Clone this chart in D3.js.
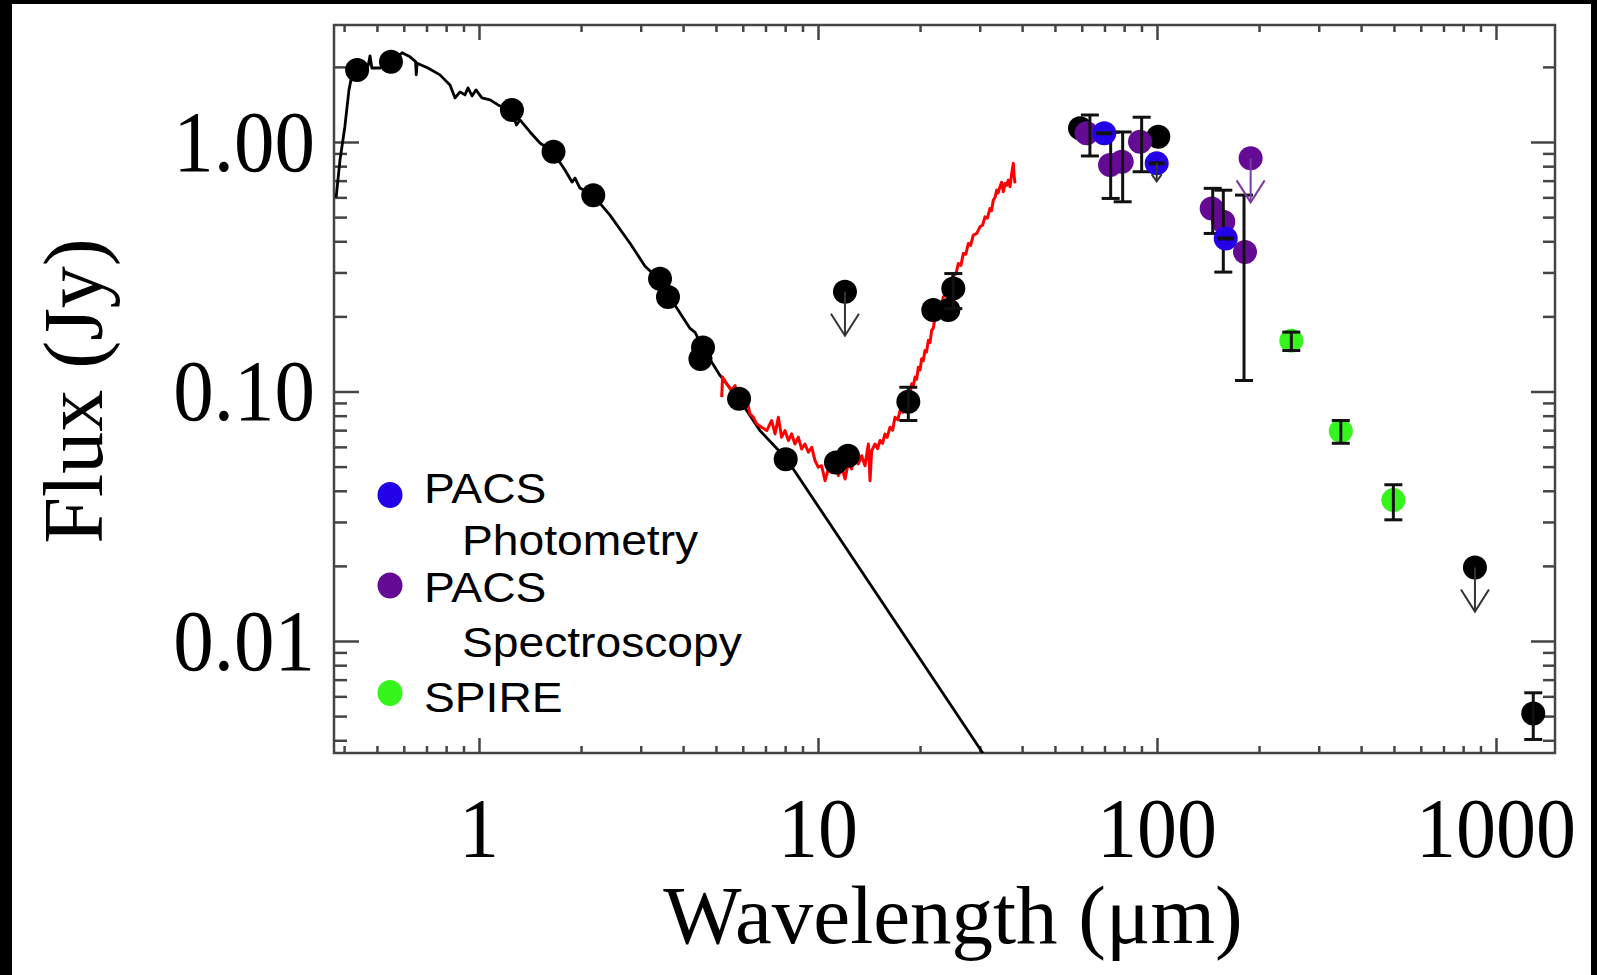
<!DOCTYPE html>
<html>
<head>
<meta charset="utf-8">
<script src="https://cdn.jsdelivr.net/npm/d3@7"></script>
<style>
  body { margin: 0; background: #fff; }
  svg { display: block; }
</style>
</head>
<body>
<script>
const width = 1597, height = 975;

// axis ticks and labels
const xMajor = [1, 10, 100, 1000];
const xTickLabels = ["1", "10", "100", "1000"];
const yMajor = [0.01, 0.1, 1];
const yTickLabels = ["0.01", "0.10", "1.00"];

// stellar photosphere model [wavelength um, flux Jy]
const photosphere = [
  [0.379, 0.60], [0.389, 0.847], [0.402, 1.149], [0.4135, 1.618], [0.422, 1.858],
  [0.437, 1.945], [0.455, 1.983], [0.471, 2.02], [0.477, 2.215], [0.483, 1.98],
  [0.5105, 1.98], [0.550, 2.096], [0.593, 2.278], [0.626, 2.194], [0.650, 2.10],
  [0.653, 1.86], [0.657, 2.07], [0.707, 1.98], [0.767, 1.858], [0.821, 1.694],
  [0.850, 1.502], [0.879, 1.588], [0.909, 1.544], [0.928, 1.648], [0.954, 1.530],
  [0.980, 1.618], [1.020, 1.502], [1.078, 1.475], [1.138, 1.408], [1.193, 1.369],
  [1.251, 1.319], [1.29, 1.17], [1.321, 1.226], [1.414, 1.097], [1.513, 0.991],
  [1.653, 0.912], [1.793, 0.772], [1.881, 0.691], [1.92, 0.717], [1.985, 0.654],
  [2.17, 0.612], [2.434, 0.509], [2.789, 0.393], [3.089, 0.318], [3.42, 0.279],
  [3.786, 0.2215], [4.193, 0.179], [4.34, 0.1726], [4.58, 0.149], [5.14, 0.116],
  [5.89, 0.092], [6.745, 0.0697], [8.07, 0.0538], [30.66, 0.00355]
];

// IRS spectrum [wavelength um, flux Jy]
const irsSpectrum = [
  [5.20, 0.0949], [5.23, 0.1142], [5.38, 0.1074], [5.56, 0.1009], [5.69, 0.1057],
  [5.82, 0.0949], [6.02, 0.0892], [6.16, 0.0935], [6.30, 0.0813], [6.45, 0.0788],
  [6.59, 0.0742], [6.82, 0.0719], [7.06, 0.0697], [7.30, 0.0765], [7.47, 0.0676],
  [7.64, 0.0788], [7.81, 0.0656], [7.99, 0.0697], [8.18, 0.0636], [8.36, 0.0676],
  [8.55, 0.0616], [8.75, 0.0656], [8.95, 0.0588], [9.15, 0.0616], [9.37, 0.0571],
  [9.58, 0.0598], [9.80, 0.0528], [10.02, 0.0497], [10.25, 0.0504], [10.49, 0.0439],
  [10.73, 0.0489], [10.97, 0.0474], [11.23, 0.0512], [11.48, 0.0460], [11.75, 0.0497],
  [12.02, 0.0446], [12.29, 0.0520], [12.57, 0.0489], [12.86, 0.0571], [13.15, 0.0512],
  [13.45, 0.0553], [13.76, 0.0504], [14.08, 0.0616], [14.24, 0.0439], [14.40, 0.0579],
  [14.73, 0.0616], [15.0, 0.0590], [15.24, 0.0636], [15.5, 0.0620], [15.76, 0.0676],
  [16.0, 0.0655], [16.31, 0.0719], [16.6, 0.0700], [16.87, 0.0788], [17.2, 0.0770],
  [17.46, 0.0839], [17.8, 0.0825], [18.06, 0.0892], [18.3, 0.0940], [18.48, 0.1009],
  [18.7, 0.0985], [18.90, 0.1074], [19.1, 0.1050], [19.33, 0.1142], [19.55, 0.1120],
  [19.77, 0.1252], [20.0, 0.1220], [20.22, 0.1353], [20.45, 0.1330], [20.68, 0.1461],
  [20.9, 0.1440], [21.16, 0.1603], [21.4, 0.1570], [21.64, 0.1758], [21.9, 0.1800],
  [22.14, 0.1988], [22.4, 0.1960], [22.65, 0.2182], [23.0, 0.2150], [23.43, 0.2392],
  [23.8, 0.2450], [24.24, 0.2706], [24.6, 0.2650], [25.07, 0.2969], [25.5, 0.2950],
  [25.94, 0.3256], [26.4, 0.3200], [26.83, 0.3571], [27.3, 0.3550], [27.76, 0.3918],
  [28.2, 0.3850], [28.72, 0.4231], [29.4, 0.4300], [30.05, 0.4571], [30.6, 0.4650],
  [31.09, 0.5013], [31.6, 0.4950], [32.17, 0.5416], [32.5, 0.5300], [32.90, 0.585],
  [33.3, 0.6000], [33.66, 0.6415], [34.0, 0.6250], [34.43, 0.6616], [34.8, 0.6900],
  [35.22, 0.6318], [35.62, 0.6823], [36.0, 0.6700], [36.44, 0.7037], [36.85, 0.6616],
  [37.27, 0.7485], [37.69, 0.821], [37.9, 0.7300], [38.12, 0.6823]
];

// photometry (black)
const photLam  = [0.437, 0.550, 1.251, 1.659, 2.173, 3.42, 3.61, 4.58, 4.50, 5.85, 8.03, 11.30, 12.26, 18.47, 21.88, 24.24, 25.07, 59.3, 100.9, 1288];
const photFlux = [1.945, 2.096, 1.344, 0.914, 0.612, 0.283, 0.239, 0.150, 0.135, 0.0935, 0.0535, 0.0519, 0.0553, 0.091, 0.212, 0.212, 0.259, 1.135, 1.05, 0.00512];

// Herschel
const pacsPhotLam  = [69.9, 99.8, 159.5];
const pacsPhotFlux = [1.084, 0.821, 0.4105];
const pacsSpecLam  = [62.0, 72.7, 78.7, 89.1, 145, 156.9, 181.8];
const pacsSpecFlux = [1.084, 0.808, 0.834, 1.003, 0.5417, 0.4786, 0.3625];
const spireLam  = [249, 348.5, 498];
const spireFlux = [0.1599, 0.0694, 0.0367];

// error bars [wavelength, low, high]
const errorBars = [
  [63.4, 0.879, 1.283], [73.0, 0.594, 1.094], [79.2, 0.576, 1.097], [90.1, 0.760, 1.257],
  [146, 0.430, 0.652], [156.9, 0.301, 0.641], [180.6, 0.1107, 0.6126],
  [18.47, 0.0765, 0.104], [25.07, 0.2149, 0.297],
  [249, 0.146, 0.173], [348.5, 0.062, 0.0765], [498, 0.0306, 0.0423],
  [1288, 0.00403, 0.0062]
];

// upper limits [wavelength, flux, kind]
const upperLimits = [
  [12.01, 0.2512, "phot"], [866.8, 0.0197, "phot"], [188.9, 0.860, "spec"], [99.8, 0.821, "small"]
];

const legendLabels = [["PACS", "Photometry"], ["PACS", "Spectroscopy"], ["SPIRE"]];
const colors = { phot: "#000", pacsPhot: "#2200e8", pacsSpec: "#640a94", spire: "#36f51c" };

const svg = d3.select("body").append("svg")
  .attr("width", width)
  .attr("height", height);

svg.append("rect").attr("width", width).attr("height", height).attr("fill", "#fff");
// black border strips of the original scan
svg.append("rect").attr("x", 0).attr("y", 0).attr("width", 12).attr("height", height).attr("fill", "#000");
svg.append("rect").attr("x", 0).attr("y", 0).attr("width", width).attr("height", 4).attr("fill", "#000");
svg.append("rect").attr("x", 1591).attr("y", 0).attr("width", 6).attr("height", height).attr("fill", "#000");

const plotLeft = 334, plotRight = 1555, plotTop = 25, plotBottom = 753;

const x = d3.scaleLog().domain([0.3735, 1493]).range([plotLeft, plotRight]);
const y = d3.scaleLog().domain([0.003557, 2.944]).range([plotBottom, plotTop]);

const xMinor = x.ticks().filter(v => !xMajor.includes(v));
const yMinor = y.ticks().filter(v => !yMajor.some(m => Math.abs(m - v) < 1e-9));

function styleTicks(g) {
  g.select(".domain").remove();
  g.selectAll("line").attr("stroke", "#444").attr("stroke-width", 2.5);
}

// ticks on all four sides, pointing inwards
[[xMajor, 15], [xMinor, 7]].forEach(([vals, len]) => {
  svg.append("g").attr("transform", `translate(0,${plotBottom})`)
    .call(d3.axisBottom(x).tickValues(vals).tickSize(-len).tickFormat("")).call(styleTicks);
  svg.append("g").attr("transform", `translate(0,${plotTop})`)
    .call(d3.axisTop(x).tickValues(vals).tickSize(-len).tickFormat("")).call(styleTicks);
});
[[yMajor, 25], [yMinor, 13]].forEach(([vals, len]) => {
  svg.append("g").attr("transform", `translate(${plotLeft},0)`)
    .call(d3.axisLeft(y).tickValues(vals).tickSize(-len).tickFormat("")).call(styleTicks);
  svg.append("g").attr("transform", `translate(${plotRight},0)`)
    .call(d3.axisRight(y).tickValues(vals).tickSize(-len + 1).tickFormat("")).call(styleTicks);
});

svg.append("rect")
  .attr("x", plotLeft).attr("y", plotTop)
  .attr("width", plotRight - plotLeft).attr("height", plotBottom - plotTop)
  .attr("fill", "none").attr("stroke", "#444").attr("stroke-width", 2.5);

// tick labels
svg.selectAll(".xlab").data(xMajor).enter().append("text")
  .attr("transform", d => `translate(${x(d)},857) scale(1,1.06)`)
  .attr("text-anchor", "middle")
  .attr("font-family", "'Liberation Serif', 'Times New Roman', serif")
  .attr("font-size", 80)
  .text((d, i) => xTickLabels[i]);

svg.selectAll(".ylab").data(yMajor).enter().append("text")
  .attr("transform", d => `translate(315,${y(d) + 29}) scale(1,1.06)`)
  .attr("text-anchor", "end")
  .attr("font-family", "'Liberation Serif', 'Times New Roman', serif")
  .attr("font-size", 81)
  .text((d, i) => yTickLabels[i]);

// axis titles
svg.append("text")
  .attr("x", 953).attr("y", 943)
  .attr("text-anchor", "middle")
  .attr("font-family", "'Liberation Serif', 'Times New Roman', serif")
  .attr("font-size", 83)
  .text("Wavelength (\u03bcm)");

svg.append("text")
  .attr("transform", "translate(102,391) rotate(-90)")
  .attr("text-anchor", "middle")
  .attr("font-family", "'Liberation Serif', 'Times New Roman', serif")
  .attr("font-size", 84)
  .text("Flux (Jy)");

// plot area clip
svg.append("clipPath").attr("id", "plot-clip")
  .append("rect").attr("x", plotLeft).attr("y", plotTop)
  .attr("width", plotRight - plotLeft).attr("height", plotBottom - plotTop);

const plot = svg.append("g").attr("clip-path", "url(#plot-clip)");

const line = d3.line().x(d => x(d[0])).y(d => y(d[1]));

plot.append("path")
  .datum(photosphere)
  .attr("d", line)
  .attr("fill", "none")
  .attr("stroke", "#000")
  .attr("stroke-width", 2.8)
  .attr("stroke-linejoin", "round");

plot.append("path")
  .datum(irsSpectrum)
  .attr("d", line)
  .attr("fill", "none")
  .attr("stroke", "#f00")
  .attr("stroke-width", 3)
  .attr("stroke-linejoin", "round");

const R = 12;

function drawPoints(lams, fluxes, color) {
  plot.append("g").selectAll("circle")
    .data(lams.map((l, i) => [l, fluxes[i]]))
    .enter().append("circle")
    .attr("cx", d => x(d[0]))
    .attr("cy", d => y(d[1]))
    .attr("r", R)
    .attr("fill", color);
}

drawPoints(photLam, photFlux, colors.phot);
drawPoints(pacsSpecLam, pacsSpecFlux, colors.pacsSpec);
drawPoints(spireLam, spireFlux, colors.spire);

// upper limit points (circles)
plot.append("g").selectAll("circle")
  .data(upperLimits.filter(d => d[2] !== "small"))
  .enter().append("circle")
  .attr("cx", d => x(d[0]))
  .attr("cy", d => y(d[1]))
  .attr("r", R)
  .attr("fill", d => d[2] === "spec" ? colors.pacsSpec : colors.phot);

// error bars
const eb = plot.append("g").attr("stroke", "#111").attr("stroke-width", 3);
errorBars.forEach(([l, lo, hi]) => {
  const cx = x(l);
  eb.append("line").attr("x1", cx).attr("x2", cx).attr("y1", y(lo)).attr("y2", y(hi));
  eb.append("line").attr("x1", cx - 9).attr("x2", cx + 9).attr("y1", y(lo)).attr("y2", y(lo));
  eb.append("line").attr("x1", cx - 9).attr("x2", cx + 9).attr("y1", y(hi)).attr("y2", y(hi));
});

drawPoints(pacsPhotLam, pacsPhotFlux, colors.pacsPhot);

// dash through PACS photometry points
plot.append("g").selectAll("line")
  .data(pacsPhotLam.map((l, i) => [l, pacsPhotFlux[i]]))
  .enter().append("line")
  .attr("x1", d => x(d[0]) - 8).attr("x2", d => x(d[0]) + 8)
  .attr("y1", d => y(d[1])).attr("y2", d => y(d[1]))
  .attr("stroke", "#111").attr("stroke-width", 4);

// arrows for upper limits
upperLimits.forEach(([l, f, kind]) => {
  const cx = x(l), cy = y(f);
  const small = kind === "small";
  const len = small ? 18 : 44, hw = small ? 5 : 14, hh = small ? 7 : 22;
  const col = kind === "spec" ? "#7a3aa0" : "#333";
  plot.append("line")
    .attr("x1", cx).attr("x2", cx).attr("y1", cy).attr("y2", cy + len)
    .attr("stroke", col).attr("stroke-width", 2);
  plot.append("polyline")
    .attr("points", `${cx - hw},${cy + len - hh} ${cx},${cy + len} ${cx + hw},${cy + len - hh}`)
    .attr("fill", "none").attr("stroke", col).attr("stroke-width", 2);
});

// legend
const legendDots = [colors.pacsPhot, colors.pacsSpec, colors.spire];
const legendDotY = [495, 585.5, 693];
const legendTextY = [[503, 555], [602, 657], [712]];
const legend = svg.append("g");
legendLabels.forEach((lines, i) => {
  legend.append("ellipse")
    .attr("cx", 390).attr("cy", legendDotY[i])
    .attr("rx", 12.5).attr("ry", 13)
    .attr("fill", legendDots[i]);
  lines.forEach((t, j) => {
    legend.append("text")
      .attr("transform", `translate(${j === 0 ? 424 : 462},${legendTextY[i][j]}) scale(1.1,1)`)
      .attr("font-family", "'Liberation Sans', Arial, sans-serif")
      .attr("font-size", 42)
      .attr("fill", "#000")
      .text(t);
  });
});
</script>
</body>
</html>
